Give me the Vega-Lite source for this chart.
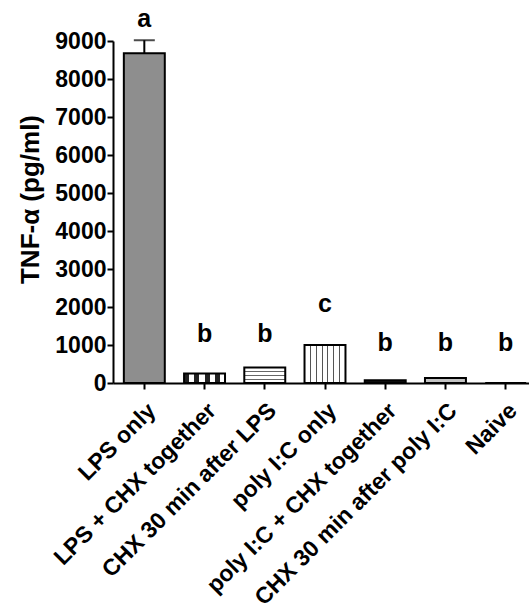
{
  "$schema": "https://vega.github.io/schema/vega-lite/v6.json",
  "autosize": "none",
  "padding": {"left": 113, "top": 41, "right": 0, "bottom": 226},
  "width": 424,
  "height": 342,
  "background": "white",
  "config": {
    "view": {"stroke": null},
    "font": "Liberation Sans",
    "axis": {
      "domainColor": "black",
      "domainWidth": 2,
      "tickColor": "black",
      "tickWidth": 2,
      "tickSize": 6,
      "labelColor": "black",
      "labelFont": "Liberation Sans",
      "labelFontWeight": "bold",
      "labelFontSize": 23,
      "titleColor": "black",
      "titleFont": "Liberation Sans",
      "titleFontWeight": "bold",
      "titleFontSize": 26,
      "grid": false
    },
    "axisY": {
      "labelPadding": 1,
      "titleX": -83,
      "titleY": 158,
      "titleAngle": -90,
      "titleBaseline": "middle",
      "titleAlign": "center"
    }
  },
  "data": {
    "values": [
      {"group": "LPS only", "value": 8680, "upper": 9020, "letter": "a", "letter_y": 9370},
      {"group": "LPS + CHX together", "value": 250, "upper": null, "letter": "b", "letter_y": 1080},
      {"group": "CHX 30 min after LPS", "value": 410, "upper": null, "letter": "b", "letter_y": 1080},
      {"group": "poly I:C only", "value": 1000, "upper": null, "letter": "c", "letter_y": 1870},
      {"group": "poly I:C + CHX together", "value": 70, "upper": null, "letter": "b", "letter_y": 850},
      {"group": "CHX 30 min after poly I:C", "value": 130, "upper": null, "letter": "b", "letter_y": 850},
      {"group": "Naive", "value": 0, "upper": null, "letter": "b", "letter_y": 850}
    ]
  },
  "encoding": {
    "x": {
      "field": "group",
      "type": "nominal",
      "sort": null,
      "scale": {"paddingInner": 0.32, "paddingOuter": 0.18},
      "axis": {
        "title": null,
        "labelAngle": -45,
        "labelAlign": "right",
        "labelBaseline": "top",
        "labelPadding": 10,
        "labelLimit": 400
      }
    }
  },
  "layer": [
    {
      "mark": {"type": "bar", "stroke": "black", "strokeWidth": 2},
      "encoding": {
        "y": {
          "field": "value",
          "type": "quantitative",
          "scale": {"domain": [0, 9000], "nice": false},
          "axis": {"title": "TNF-α (pg/ml)", "values": [0, 1000, 2000, 3000, 4000, 5000, 6000, 7000, 8000, 9000], "format": "d"}
        },
        "fill": {
          "condition": [
            {"test": "datum.group === 'LPS only'", "value": "#8e8e8e"},
            {"test": "datum.group === 'LPS + CHX together'", "value": {"gradient": "linear", "x1": 0, "y1": 0, "x2": 1, "y2": 0, "stops": [
              {"offset": 0, "color": "#222"}, {"offset": 0.125, "color": "#222"}, {"offset": 0.125, "color": "white"}, {"offset": 0.25, "color": "white"},
              {"offset": 0.25, "color": "#222"}, {"offset": 0.375, "color": "#222"}, {"offset": 0.375, "color": "white"}, {"offset": 0.5, "color": "white"},
              {"offset": 0.5, "color": "#222"}, {"offset": 0.625, "color": "#222"}, {"offset": 0.625, "color": "white"}, {"offset": 0.75, "color": "white"},
              {"offset": 0.75, "color": "#222"}, {"offset": 0.875, "color": "#222"}, {"offset": 0.875, "color": "white"}, {"offset": 1, "color": "white"}
            ]}},
            {"test": "datum.group === 'CHX 30 min after LPS'", "value": {"gradient": "linear", "x1": 0, "y1": 0, "x2": 0, "y2": 1, "stops": [
              {"offset": 0, "color": "white"}, {"offset": 0.22, "color": "white"}, {"offset": 0.22, "color": "#666"}, {"offset": 0.29, "color": "#666"},
              {"offset": 0.29, "color": "white"}, {"offset": 0.47, "color": "white"}, {"offset": 0.47, "color": "#666"}, {"offset": 0.54, "color": "#666"},
              {"offset": 0.54, "color": "white"}, {"offset": 0.72, "color": "white"}, {"offset": 0.72, "color": "#666"}, {"offset": 0.79, "color": "#666"},
              {"offset": 0.79, "color": "white"}, {"offset": 1, "color": "white"}
            ]}},
            {"test": "datum.group === 'poly I:C only'", "value": {"gradient": "linear", "x1": 0, "y1": 0, "x2": 1, "y2": 0, "stops": [
              {"offset": 0, "color": "white"}, {"offset": 0.13, "color": "white"}, {"offset": 0.13, "color": "#555"}, {"offset": 0.155, "color": "#555"},
              {"offset": 0.155, "color": "white"}, {"offset": 0.275, "color": "white"}, {"offset": 0.275, "color": "#555"}, {"offset": 0.3, "color": "#555"},
              {"offset": 0.3, "color": "white"}, {"offset": 0.415, "color": "white"}, {"offset": 0.415, "color": "#555"}, {"offset": 0.44, "color": "#555"},
              {"offset": 0.44, "color": "white"}, {"offset": 0.56, "color": "white"}, {"offset": 0.56, "color": "#555"}, {"offset": 0.585, "color": "#555"},
              {"offset": 0.585, "color": "white"}, {"offset": 0.7, "color": "white"}, {"offset": 0.7, "color": "#555"}, {"offset": 0.725, "color": "#555"},
              {"offset": 0.725, "color": "white"}, {"offset": 0.845, "color": "white"}, {"offset": 0.845, "color": "#555"}, {"offset": 0.87, "color": "#555"},
              {"offset": 0.87, "color": "white"}, {"offset": 1, "color": "white"}
            ]}},
            {"test": "datum.group === 'poly I:C + CHX together'", "value": "#111"},
            {"test": "datum.group === 'CHX 30 min after poly I:C'", "value": "#c4c4c4"}
          ],
          "value": "white"
        }
      }
    },
    {
      "mark": {"type": "rule", "color": "black", "strokeWidth": 2},
      "transform": [{"filter": "datum.upper != null"}],
      "encoding": {
        "y": {"field": "value", "type": "quantitative", "axis": {"title": "TNF-α (pg/ml)", "values": [0, 1000, 2000, 3000, 4000, 5000, 6000, 7000, 8000, 9000], "format": "d"}},
        "y2": {"field": "upper"}
      }
    },
    {
      "mark": {"type": "tick", "color": "black", "thickness": 2, "size": 21, "orient": "horizontal"},
      "transform": [{"filter": "datum.upper != null"}],
      "encoding": {
        "y": {"field": "upper", "type": "quantitative", "axis": {"title": "TNF-α (pg/ml)", "values": [0, 1000, 2000, 3000, 4000, 5000, 6000, 7000, 8000, 9000], "format": "d"}}
      }
    },
    {
      "mark": {"type": "text", "font": "Liberation Sans", "fontWeight": "bold", "fontSize": 25, "color": "black", "baseline": "alphabetic", "align": "center"},
      "encoding": {
        "y": {"field": "letter_y", "type": "quantitative", "axis": {"title": "TNF-α (pg/ml)", "values": [0, 1000, 2000, 3000, 4000, 5000, 6000, 7000, 8000, 9000], "format": "d"}},
        "text": {"field": "letter"}
      }
    }
  ]
}
